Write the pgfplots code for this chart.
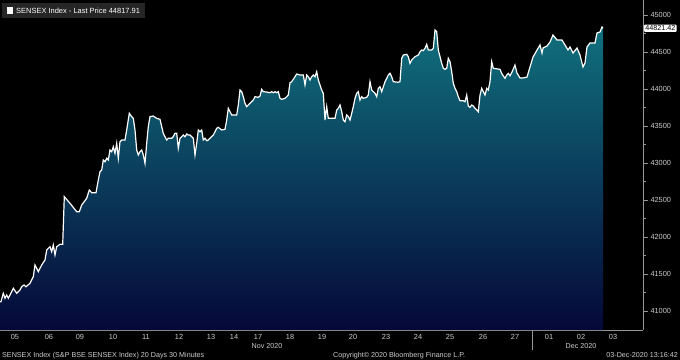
\documentclass[border=0pt]{standalone}
\usepackage{fontspec}
\setmainfont{Liberation Sans}
\usepackage{pgfplots}
\pgfplotsset{compat=1.18}
\usepackage{pgfplotstable}
\definecolor{tealtop}{RGB}{16,112,125}
\definecolor{navybot}{RGB}{5,8,56}
\definecolor{axgray}{RGB}{150,150,150}
\definecolor{txtgray}{RGB}{205,205,205}
\definecolor{legbg}{RGB}{38,38,38}

\pgfplotstableread{
x y
0 41126
1 41126
3.3 41239
5 41172
6.7 41216
8.3 41172
11.7 41261
13.3 41307
16.7 41239
20 41284
21.7 41328
24 41351
26 41328
30 41374
33.3 41464
35 41622
38.3 41531
41.7 41622
45 41689
46.7 41824
48.3 41847
50 41869
51.7 41801
53.3 41892
55 41757
56.7 41869
60 41901
62.7 41901
64.3 42545
70 42455
76.7 42342
79.3 42342
81.7 42432
86.7 42523
89.3 42635
91.7 42599
96 42599
98.3 42770
100 42882
101.7 42905
103.3 43041
105 43018
106.7 43064
108.3 43041
110 43176
111.7 43153
113.3 43220
115 43131
116.7 43266
118.3 43064
120 43288
121.7 43311
125 43311
126.7 43446
129.3 43672
131.7 43626
133.3 43604
135 43446
136.7 43176
138.3 43108
140 43153
141.7 43176
143.3 43108
145 42996
146.7 43266
148.3 43491
150 43626
153.3 43635
156.7 43604
160 43590
161.7 43491
163.3 43401
165 43355
166.7 43311
168.3 43334
171.7 43334
173.3 43355
175 43401
176.7 43401
178.3 43199
180 43334
181.7 43355
183.3 43378
185 43355
186.7 43392
188.3 43378
190 43378
191.7 43355
193.3 43334
195 43108
196.7 43266
198.3 43446
200 43423
201.7 43446
203.3 43311
205 43334
206.7 43301
208.3 43311
210 43334
213.3 43378
216.7 43469
218.3 43482
221.7 43446
225 43455
226.7 43581
228.3 43739
231.7 43649
236.7 43649
238.3 43784
240 43986
241.7 43964
243.3 43896
245 43807
246.7 43761
250 43807
253.3 43851
255 43896
258.3 43888
260 43905
261.7 43996
263.3 43964
266.7 43959
270 43950
271.7 43964
273.3 43950
275 43964
276.7 43950
278.3 43964
280 43874
281.7 43861
285 43874
286.7 43896
288.3 43919
290 44085
291.7 44099
293.3 44131
296.7 44203
300 44189
303.3 44189
305 44054
306.7 44189
308.3 44166
310 44122
311.7 44166
313.3 44189
315 44166
316.7 44234
318.3 44122
320 44054
321.7 43986
323.3 43942
325 43581
326.7 43761
328.3 43604
335 43604
336.7 43716
338.3 43739
340 43784
341.7 43693
343.3 43581
345 43558
346.7 43649
348.3 43626
350 43581
351.7 43672
353.3 43761
355 43874
356.7 43942
358.3 43964
360 43851
361.7 43896
363.3 43874
366.7 43888
368.3 43919
370 44099
371.7 43986
373.3 43964
375 43942
376.7 43896
378.3 44009
380 44031
381.7 43964
383.3 44031
385 44099
386.7 44145
388.3 44189
390 44212
391.7 44166
393.3 44099
398.3 44091
400 44100
401.7 44415
403.3 44459
406.7 44469
408.3 44437
410 44347
411.7 44392
413.3 44415
415 44437
418.3 44459
420 44504
421.7 44527
423.3 44518
425 44550
426.7 44604
428.3 44527
431.7 44527
433.3 44550
435 44797
436.7 44774
438.3 44527
440 44437
441.7 44347
443.3 44280
445 44266
446.7 44280
448.3 44415
450 44369
451.7 44234
453.3 44077
455 44009
456.7 43964
458.3 43896
460 43842
463.3 43842
465 43828
466.7 43919
468.3 43770
470 43753
471.7 43784
473.3 43770
475 43739
476.7 43716
478.3 43693
480 43919
481.7 44009
483.3 43964
485 43919
486.7 44009
488.3 43986
490 44099
491.7 44369
493.3 44280
500 44266
501.7 44212
503.3 44176
505 44145
506.7 44189
508.3 44212
510 44180
512 44230
515 44324
517 44216
520 44149
523 44149
527 44162
530 44297
533 44432
537 44527
540 44595
542 44486
543 44554
547 44581
550 44635
553 44730
557 44662
562 44662
565 44595
568 44527
570 44568
573 44486
577 44554
580 44459
583 44297
585 44351
587 44568
590 44622
595 44622
597 44757
600 44770
602 44838
603 44821
}\sensex

\begin{document}
\begin{tikzpicture}
\path[use as bounding box, fill=black] (0bp,0bp) rectangle (680bp,360bp);
\begin{axis}[
  at={(0bp,30bp)}, anchor=south west,
  scale only axis, width=643bp, height=330bp,
  xmin=0, xmax=643, ymin=40743, ymax=45203,
  axis x line=bottom, axis y line=right,
  axis line style={-, draw=axgray, line width=0.8bp},
  xtick={15,49,80,113,146,179,211,234,258,290,322,353,386,418,450,483,515,549,581,613},
  xticklabels={05,06,09,10,11,12,13,14,17,18,19,20,23,24,25,26,27,01,02,03},
  x tick style={draw=none},
  ytick={41000,41500,...,45000}, minor y tick num=1,
  scaled y ticks=false,
  y tick style={draw=axgray, line width=0.6bp},
  tick align=outside, major tick length=5bp, minor tick length=3bp,
  xticklabel style={font=\fontsize{7.4}{8}\selectfont, text=txtgray, yshift=4bp},
  yticklabel style={font=\fontsize{7.4}{8}\selectfont, text=txtgray, /pgf/number format/set thousands separator={}, xshift=-1bp},
  /pgf/number format/assume math mode=true,
  clip=false,
]
\addplot[draw=none, top color=tealtop, bottom color=navybot] table {\sensex} \closedcycle;
\addplot[white, line width=1.2bp] table {\sensex};
\node[fill=white, text=black, font=\fontsize{7.2}{8}\selectfont, inner sep=1.2bp, anchor=west, rounded corners=1bp] at (axis cs:644,44821) {44821.42};
\end{axis}
\fill[legbg] (2bp,342bp) rectangle (145bp,357bp);
\fill[white] (7bp,346bp) rectangle (13bp,353bp);
\node[anchor=west, inner sep=0, text=white, font=\fontsize{7.5}{9}\selectfont] at (16bp,349.5bp) {SENSEX Index - Last Price 44817.91};
\draw[axgray, line width=0.8bp] (532bp,30bp) -- (532bp,10bp);
\node[text=txtgray, inner sep=0, font=\fontsize{7.2}{8}\selectfont] at (267bp,14bp) {Nov 2020};
\node[text=txtgray, inner sep=0, font=\fontsize{7.2}{8}\selectfont] at (581bp,14bp) {Dec 2020};
\node[anchor=west, text=txtgray, inner sep=0, font=\fontsize{7.2}{8}\selectfont] at (2bp,4.5bp) {SENSEX Index (S\&P BSE SENSEX Index) 20 Days 30 Minutes};
\node[anchor=west, text=txtgray, inner sep=0, font=\fontsize{7.2}{8}\selectfont] at (333bp,4.5bp) {Copyright© 2020 Bloomberg Finance L.P.};
\node[anchor=east, text=txtgray, inner sep=0, font=\fontsize{7.2}{8}\selectfont] at (678bp,4.5bp) {03-Dec-2020 13:16:42};
\end{tikzpicture}
\end{document}
